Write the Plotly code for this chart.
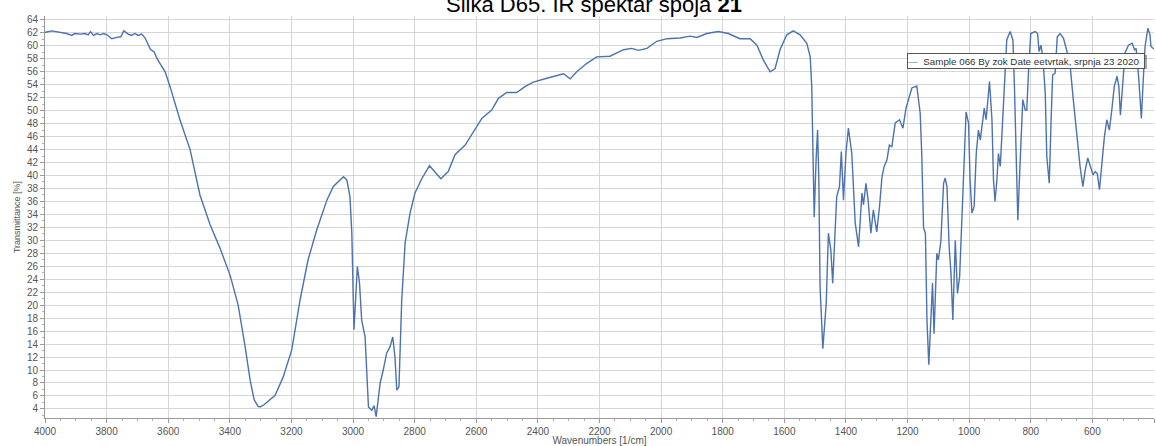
import plotly.graph_objects as go

# IR spectrum: wavenumber [1/cm] and transmittance [%]
wavenumbers = [
    4000, 3997, 3978, 3951, 3930, 3913, 3903, 3886, 3870, 3860, 3852, 3843, 3831, 3821, 3810, 3799,
    3783, 3767, 3754, 3744, 3730, 3719, 3708, 3698, 3686, 3675, 3664, 3657, 3646, 3637, 3627, 3610,
    3594, 3578, 3562, 3529, 3497, 3464, 3432, 3399, 3373, 3351, 3334, 3321, 3308, 3302, 3290, 3253,
    3227, 3199, 3172, 3146, 3118, 3085, 3064, 3031, 3020, 3010, 3004, 2997, 2986, 2979, 2972, 2961,
    2950, 2939, 2932, 2925, 2912, 2902, 2891, 2880, 2871, 2864, 2858, 2851, 2842, 2831, 2815, 2799,
    2777, 2752, 2734, 2715, 2691, 2669, 2636, 2615, 2582, 2550, 2528, 2501, 2469, 2442, 2415, 2371,
    2317, 2295, 2274, 2241, 2209, 2166, 2122, 2095, 2074, 2046, 2014, 1981, 1938, 1906, 1884, 1852,
    1814, 1782, 1744, 1711, 1689, 1668, 1646, 1630, 1614, 1592, 1571, 1549, 1527, 1516, 1511, 1507,
    1503, 1497, 1492, 1488, 1484, 1475, 1464, 1457, 1449, 1443, 1435, 1430, 1421, 1415, 1408, 1400,
    1392, 1381, 1370, 1359, 1348, 1343, 1335, 1328, 1319, 1311, 1300, 1291, 1283, 1276, 1267, 1259,
    1251, 1240, 1226, 1215, 1205, 1186, 1170, 1159, 1154, 1148, 1142, 1137, 1131, 1124, 1119, 1114,
    1105, 1100, 1092, 1083, 1078, 1072, 1065, 1059, 1053, 1045, 1038, 1031, 1024, 1016, 1010, 1002,
    997, 991, 984, 977, 970, 964, 958, 951, 945, 939, 934, 926, 921, 916, 910, 905,
    899, 894, 886, 878, 867, 858, 853, 848, 842, 837, 831, 826, 818, 813, 807, 800,
    786, 778, 773, 767, 761, 753, 748, 740, 734, 729, 721, 714, 705, 694, 684, 672,
    662, 651, 640, 631, 623, 615, 607, 598, 591, 584, 577, 569, 561, 553, 545, 537,
    529, 520, 514, 509, 500, 494, 483, 471, 463, 458, 450, 441, 435, 429, 420, 413,
    410, 400,
]
transmittance = [
    62.1, 62.1, 62.3, 62.1, 61.9, 61.6, 61.9, 61.8, 61.9, 61.7, 62.2, 61.6, 61.9, 61.7, 61.9, 61.7,
    61.1, 61.3, 61.4, 62.3, 61.8, 61.6, 61.9, 61.6, 61.8, 61.2, 60.2, 59.4, 59.1, 58.1, 57.3, 56.0,
    53.7, 51.1, 48.6, 44.0, 37.0, 32.4, 28.8, 24.6, 20.0, 13.8, 8.4, 5.4, 4.4, 4.3, 4.6, 6.1,
    8.9, 13.1, 20.8, 27.0, 31.6, 36.2, 38.3, 39.8, 39.3, 36.7, 31.1, 16.2, 26.0, 23.4, 17.7, 15.1,
    4.3, 3.8, 4.5, 2.8, 8.0, 10.0, 12.6, 13.6, 15.1, 12.0, 6.9, 7.4, 20.8, 29.6, 34.2, 37.3,
    39.5, 41.5, 40.6, 39.5, 40.6, 43.2, 44.7, 46.3, 48.8, 50.1, 51.9, 52.8, 52.8, 53.7, 54.4, 55.0,
    55.7, 54.9, 56.0, 57.3, 58.3, 58.4, 59.4, 59.6, 59.3, 59.6, 60.7, 61.1, 61.2, 61.5, 61.3, 61.9,
    62.2, 61.9, 61.1, 61.1, 60.1, 57.8, 56.0, 56.5, 59.4, 61.7, 62.3, 61.7, 60.4, 58.3, 53.7, 43.5,
    33.6, 42.4, 47.0, 39.3, 22.8, 13.3, 20.3, 31.1, 28.5, 23.4, 32.7, 36.7, 38.3, 43.7, 36.2, 43.4,
    47.3, 43.4, 32.7, 29.0, 37.3, 35.5, 38.8, 36.2, 31.1, 34.7, 31.3, 35.2, 39.8, 41.4, 42.4, 44.7,
    44.4, 48.1, 48.6, 47.3, 50.4, 53.5, 53.8, 49.6, 43.4, 31.9, 31.1, 17.7, 10.8, 17.7, 23.4, 15.6,
    28.0, 27.0, 29.8, 38.8, 39.6, 38.3, 29.0, 24.9, 17.7, 30.0, 21.8, 24.4, 33.1, 43.4, 49.8, 48.1,
    39.3, 34.2, 35.2, 43.4, 47.0, 45.5, 48.1, 50.4, 48.6, 52.7, 54.5, 48.6, 39.3, 36.0, 39.3, 43.4,
    41.4, 46.0, 54.7, 60.9, 62.2, 60.9, 53.7, 42.4, 33.1, 39.3, 47.5, 51.7, 50.1, 50.1, 56.3, 61.9,
    62.2, 61.9, 59.1, 60.1, 58.3, 52.7, 42.9, 38.8, 48.6, 55.5, 55.8, 61.4, 61.9, 61.2, 59.4, 56.8,
    51.7, 46.5, 41.4, 38.3, 40.9, 42.7, 41.4, 40.1, 40.6, 40.3, 37.8, 42.4, 46.0, 48.6, 47.0, 50.1,
    53.7, 55.3, 53.7, 49.3, 55.8, 58.9, 60.1, 60.4, 59.4, 59.6, 55.3, 48.8, 54.7, 59.9, 62.7, 61.7,
    59.9, 59.5,
]

series_name = "Sample 066 By zok Date eetvrtak, srpnja 23 2020"
x_ticks = list(range(4000, 399, -200))
y_ticks = list(range(4, 65, 2))

LINE_COLOR = "#4c72b0"
SANS = "Liberation Sans, Arial, sans-serif"

fig = go.Figure()
fig.add_trace(go.Scatter(
    x=wavenumbers, y=transmittance, mode="lines", name=series_name,
    line=dict(color=LINE_COLOR, width=1.4), showlegend=False,
))

axis_font = dict(family=SANS, size=10, color="#555555")

# Compact legend box (with a drop shadow) for the single series
legend_x, legend_y = 0.992, 0.908
legend_box = dict(
    xref="paper", yref="paper", x=legend_x, y=legend_y, xanchor="right", yanchor="top",
    width=236, height=14, align="left", valign="middle", showarrow=False, borderpad=0,
)
legend_text = (f"<span style='color:{LINE_COLOR}'>\u2014</span>&nbsp;&nbsp;{series_name}")

fig.update_layout(
    width=1156, height=446,
    margin=dict(l=45, r=2, t=16, b=28),
    paper_bgcolor="white", plot_bgcolor="white",
    xaxis=dict(
        range=[4000, 400], tickvals=x_ticks, ticktext=[str(v) for v in x_ticks],
        showgrid=True, gridcolor="#d6d6d6", gridwidth=1,
        showline=True, linecolor="#9a9a9a", linewidth=1,
        ticks="outside", ticklen=4, tickcolor="#9a9a9a",
        minor=dict(dtick=50, ticks="outside", ticklen=2, tickcolor="#b0b0b0", showgrid=False),
        tickfont=axis_font, zeroline=False, automargin=False,
        title=dict(text="Wavenumbers [1/cm]", font=axis_font, standoff=2),
    ),
    yaxis=dict(
        range=[2.6, 64.6], tickvals=y_ticks, ticktext=[str(v) for v in y_ticks],
        showgrid=True, gridcolor="#d6d6d6", gridwidth=1,
        showline=True, linecolor="#9a9a9a", linewidth=1,
        ticks="outside", ticklen=4, tickcolor="#9a9a9a",
        minor=dict(dtick=1, ticks="outside", ticklen=2, tickcolor="#b0b0b0", showgrid=False),
        tickfont=axis_font, zeroline=False, automargin=False,
        title=dict(text="Transmittance [%]", font=dict(family=SANS, size=9, color="#555555"),
                   standoff=4),
    ),
    annotations=[
        dict(
            text="Slika D65. IR spektar spoja <b>21</b>",
            xref="paper", yref="paper", x=0.495, y=1.0, xanchor="center", yanchor="bottom",
            yshift=-3, showarrow=False, font=dict(family=SANS, size=22, color="#000000"),
        ),
        dict(legend_box, text="", bgcolor="rgba(60,60,60,0.45)", borderwidth=0,
             xshift=2, yshift=-2),
        dict(legend_box, text=legend_text, bgcolor="white", bordercolor="#555555",
             borderwidth=1, font=dict(family=SANS, size=9.8, color="#333333")),
    ],
)

fig.write_html("out.html")
